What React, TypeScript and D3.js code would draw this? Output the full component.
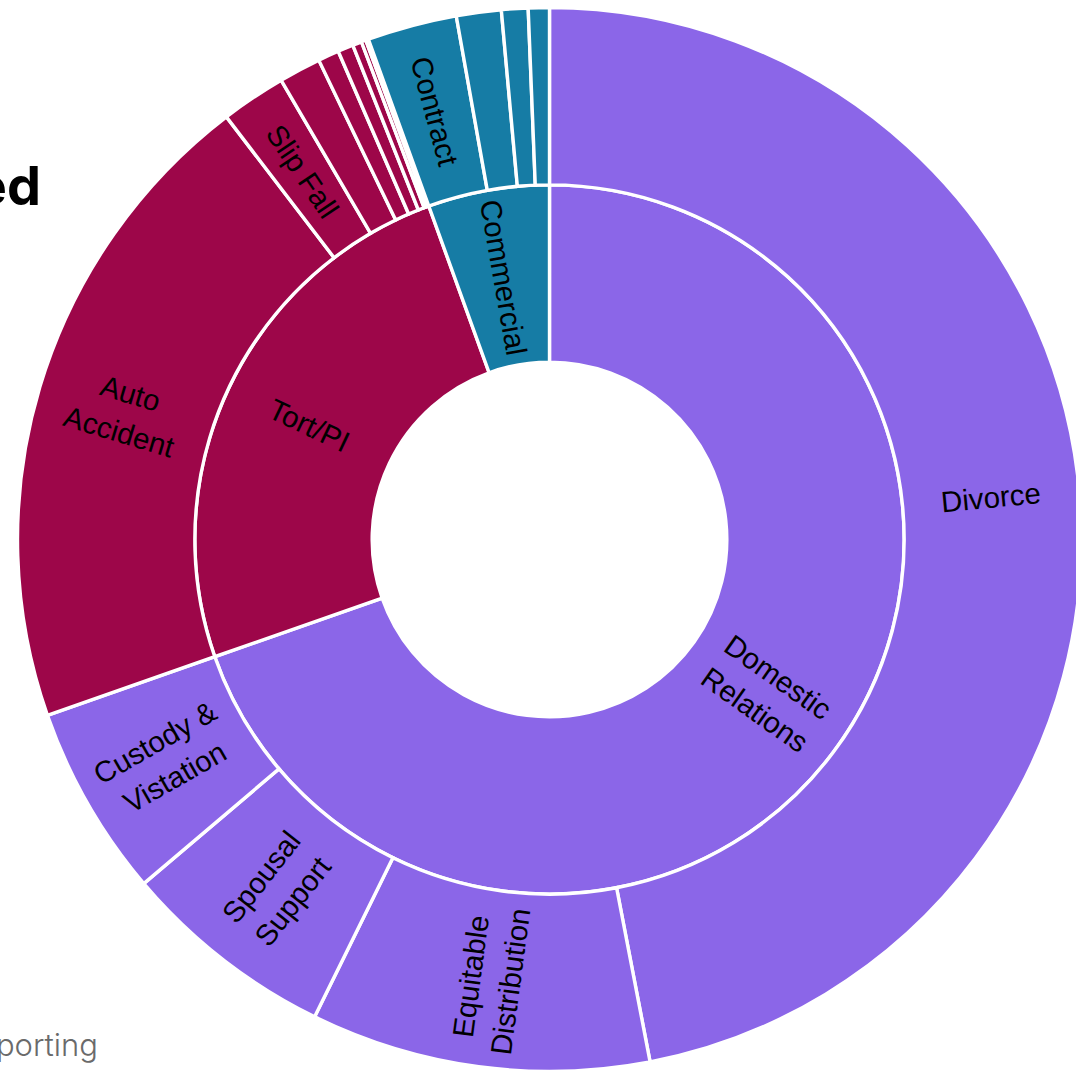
import React from "react";
import * as d3 from "d3";

// ---- Data (units ~ share of cases) ----
const categories = ["Domestic Relations", "Tort/PI", "Commercial"];
const categoryLabels = [["Domestic", "Relations"], ["Tort/PI"], ["Commercial"]];
const categoryColors = ["#8b66e8", "#9d0649", "#167ca5"];

const domesticNames = ["Divorce", "Equitable Distribution", "Spousal Support", "Custody & Vistation"];
const domesticLabels = [["Divorce"], ["Equitable", "Distribution"], ["Spousal", "Support"], ["Custody &", "Vistation"]];
const domesticValues = [1691, 371, 235, 210];

const tortNames = ["Auto Accident", "Slip Fall", "Medical Malpractice", "Premises Liability", "Product Liability", "Wrongful Death", "Defamation", "Other Tort"];
const tortLabels = [["Auto", "Accident"], ["Slip Fall"], [], [], [], [], [], []];
const tortValues = [719, 71, 46, 23, 17, 10, 5, 3];

const commercialNames = ["Contract", "Debt Collection", "Landlord/Tenant", "Other Commercial"];
const commercialLabels = [["Contract"], [], [], []];
const commercialValues = [98, 49, 29, 23];

const titleFragment = "ed";
const sourceFragment = "porting";

// ---- Layout ----
const W = 1076;
const H = 1071;
const CX = 549.5;
const CY = 539.5;
const R = 532;
const ringW = R / 3;

type Node = { name: string; label?: string[]; value?: number; children?: Node[] };

function buildTree(): Node {
  const groups = [
    [domesticNames, domesticLabels, domesticValues],
    [tortNames, tortLabels, tortValues],
    [commercialNames, commercialLabels, commercialValues],
  ] as [string[], string[][], number[]][];
  return {
    name: "All",
    children: categories.map((c, i) => ({
      name: c,
      label: categoryLabels[i],
      children: groups[i][0].map((n, j) => ({
        name: n,
        label: groups[i][1][j],
        value: groups[i][2][j],
      })),
    })),
  };
}

export default function App() {
  const root = d3.hierarchy<Node>(buildTree()).sum((d) => d.value || 0);
  const part = d3.partition<Node>().size([2 * Math.PI, 3])(root);
  const nodes = part.descendants().filter((d) => d.depth > 0);

  const arc = d3
    .arc<d3.HierarchyRectangularNode<Node>>()
    .startAngle((d) => d.x0)
    .endAngle((d) => d.x1)
    .innerRadius((d) => d.y0 * ringW)
    .outerRadius((d) => d.y1 * ringW);

  const colorOf = (d: d3.HierarchyRectangularNode<Node>) => {
    let a = d;
    while (a.depth > 1 && a.parent) a = a.parent;
    return categoryColors[categories.indexOf(a.data.name)];
  };

  const fontSize = 29.5;
  const lineH = 40;

  return (
    <svg
      width={W}
      height={H}
      viewBox={`0 0 ${W} ${H}`}
      style={{ position: "absolute", left: 0, top: 0, display: "block", background: "#fff" }}
    >
      <text
        x={41}
        y={205}
        textAnchor="end"
        fontFamily="Inter, 'Noto Sans', sans-serif"
        fontWeight={700}
        fontSize={54}
        fill="#000"
      >
        {titleFragment}
      </text>
      <text
        x={98}
        y={1056}
        textAnchor="end"
        fontFamily="Inter, 'Noto Sans', sans-serif"
        fontWeight={300}
        fontSize={31}
        fill="#6a6a6a"
      >
        {sourceFragment}
      </text>
      <g transform={`translate(${CX},${CY})`}>
        {nodes.map((d, i) => (
          <path
            key={"p" + i}
            d={arc(d) || ""}
            fill={colorOf(d)}
            stroke="#fff"
            strokeWidth={3.4}
          />
        ))}
        {nodes
          .filter((d) => d.x1 - d.x0 > 0.1 && d.data.label && d.data.label.length > 0)
          .map((d, i) => {
            const ang = ((d.x0 + d.x1) / 2) * (180 / Math.PI);
            const r = ((d.y0 + d.y1) / 2) * ringW;
            const lines = d.data.label as string[];
            const n = lines.length;
            return (
              <text
                key={"t" + i}
                transform={`rotate(${ang - 90}) translate(${r},0) rotate(${ang < 180 ? 0 : 180})`}
                textAnchor="middle"
                fontFamily="'Liberation Sans', Arial, Helvetica, sans-serif"
                fontSize={fontSize}
                fill="#000"
              >
                {lines.map((ln, k) => (
                  <tspan key={k} x={0} y={(k - (n - 1) / 2) * lineH} dy="0.35em">
                    {ln}
                  </tspan>
                ))}
              </text>
            );
          })}
      </g>
    </svg>
  );
}
